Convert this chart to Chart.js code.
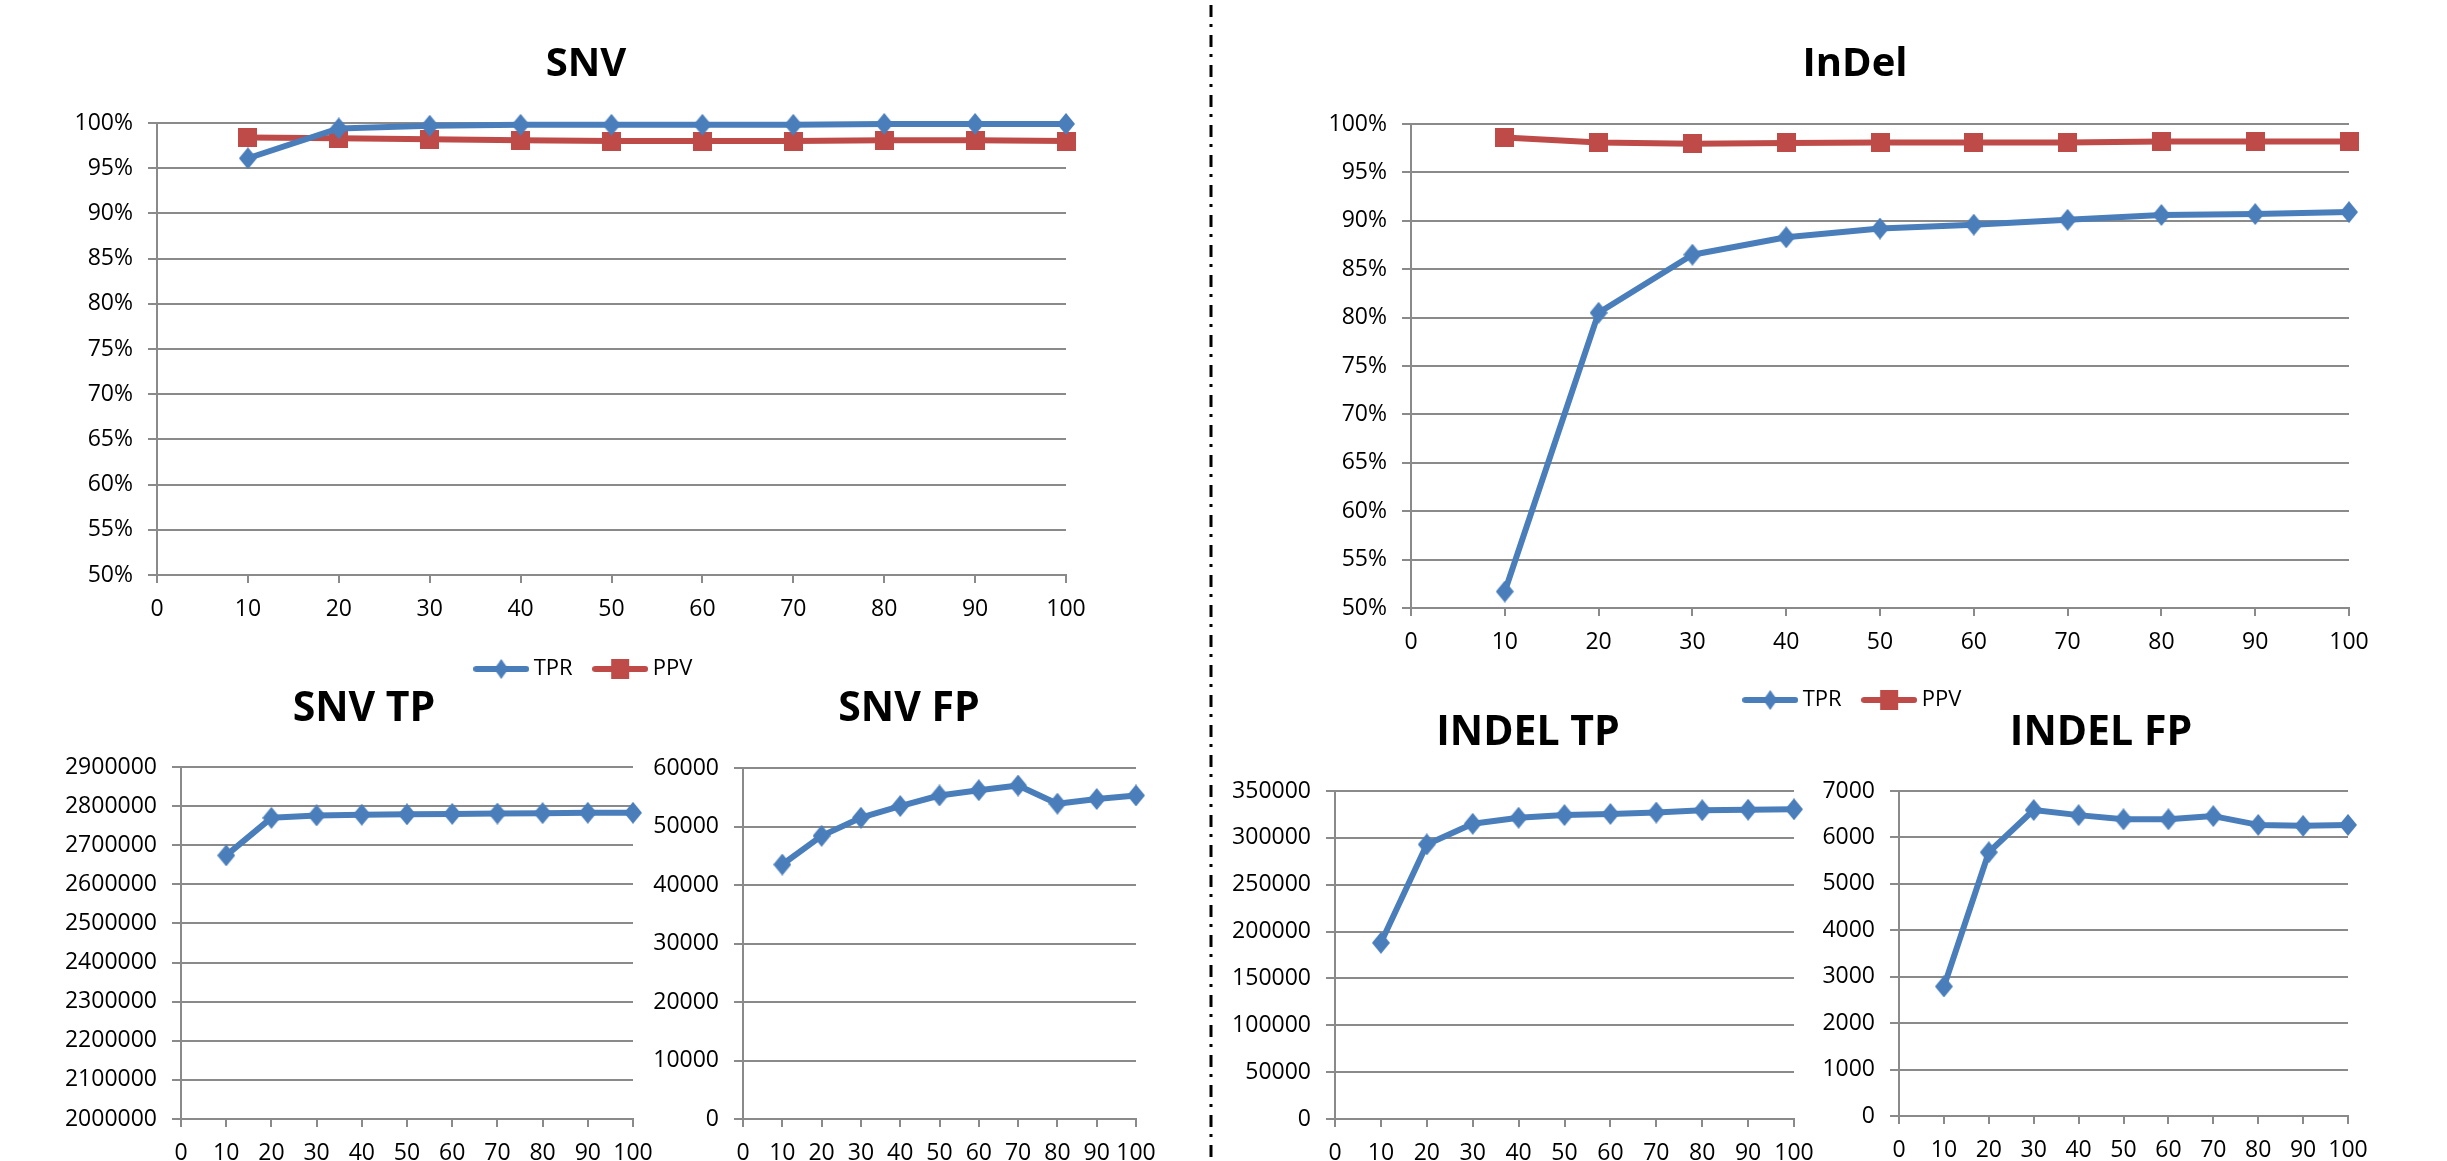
<!DOCTYPE html>
<html>
<head>
<meta charset="utf-8">
<title>SNV / InDel calling performance by depth</title>
<script src="https://cdn.jsdelivr.net/npm/chart.js@4.4.1/dist/chart.umd.min.js"></script>
<style>
  html, body { margin: 0; padding: 0; background: #ffffff; width: 2447px; height: 1161px; overflow: hidden; }
  canvas { position: absolute; display: block; }
</style>
</head>
<body>
<script>
// Sequencing depth (x)
const depth = [10, 20, 30, 40, 50, 60, 70, 80, 90, 100];

// SNV sensitivity / precision (%)
const snvTPR = [96.1, 99.4, 99.7, 99.8, 99.8, 99.8, 99.8, 99.9, 99.9, 99.9];
const snvPPV = [98.4, 98.3, 98.2, 98.1, 98.0, 98.0, 98.0, 98.1, 98.1, 98.0];

// InDel sensitivity / precision (%)
const indelTPR = [51.7, 80.5, 86.5, 88.3, 89.2, 89.6, 90.1, 90.6, 90.7, 90.9];
const indelPPV = [98.6, 98.1, 97.95, 98.05, 98.1, 98.1, 98.1, 98.2, 98.2, 98.2];

// Counts of true / false positive calls
const snvTP   = [2674000, 2770000, 2776000, 2778000, 2779000, 2780000, 2781000, 2782000, 2783000, 2783000];
const snvFP   = [43500, 48400, 51500, 53500, 55300, 56200, 57000, 53900, 54700, 55300];
const indelTP = [188000, 293000, 315000, 321500, 324300, 325500, 327000, 329500, 330000, 330500];
const indelFP = [2790, 5680, 6590, 6480, 6390, 6390, 6460, 6270, 6250, 6270];

// Series names
const seriesNames = ['TPR', 'PPV'];

const BLUE = '#4A7EBB';
const RED = '#BE4B48';
const GRID = '#8A8A8A';
const FONT = "'Open Sans', 'Liberation Sans', sans-serif";

// Marker sprites (diamond for TPR/counts, square for PPV)
function marker(kind, color) {
  const c = document.createElement('canvas');
  const w = kind === 'diamond' ? 18 : 19;
  const h = kind === 'diamond' ? 22 : 19;
  c.width = w; c.height = h;
  const g = c.getContext('2d');
  g.fillStyle = color;
  if (kind === 'diamond') {
    g.beginPath();
    g.moveTo(w / 2, 0); g.lineTo(w, h / 2); g.lineTo(w / 2, h); g.lineTo(0, h / 2);
    g.closePath(); g.fill();
  } else {
    g.fillRect(0, 0, w, h);
  }
  return c;
}

// Legend sprite: short line segment with the marker in the middle
function legendSprite(kind, color) {
  const c = document.createElement('canvas');
  c.width = 56; c.height = 22;
  const g = c.getContext('2d');
  g.strokeStyle = color; g.lineWidth = 6; g.lineCap = 'round';
  g.beginPath(); g.moveTo(3, 11); g.lineTo(53, 11); g.stroke();
  const m = marker(kind, color);
  const mw = kind === 'diamond' ? 14 : 18;
  const mh = 20;
  g.drawImage(m, 28 - mw / 2, 11 - mh / 2, mw, mh);
  return c;
}

const diamondBlue = marker('diamond', BLUE);
const squareRed = marker('square', RED);
const legendTPR = legendSprite('diamond', BLUE);
const legendPPV = legendSprite('square', RED);

function build(cfg) {
  const cv = document.createElement('canvas');
  cv.width = cfg.w; cv.height = cfg.h;
  cv.style.left = cfg.left + 'px'; cv.style.top = cfg.top + 'px';
  cv.style.width = cfg.w + 'px'; cv.style.height = cfg.h + 'px';
  document.body.appendChild(cv);

  const datasets = cfg.series.map(s => ({
    label: s.label,
    data: depth.map((d, i) => ({ x: d, y: s.values[i] })),
    yAxisID: 'y',
    borderColor: s.color,
    backgroundColor: s.color,
    borderWidth: 6,
    borderJoinStyle: 'round',
    borderCapStyle: 'round',
    pointStyle: s.marker,
    pointRadius: 9,
    pointHoverRadius: 9,
    tension: 0,
    clip: false
  }));

  const legendCfg = cfg.legend ? {
    display: true,
    position: 'bottom',
    labels: {
      usePointStyle: true,
      pointStyleWidth: 43,
      padding: 26,
      color: '#000',
      font: { family: FONT, size: 22, lineHeight: 1 },
      generateLabels(chart) {
        const items = Chart.defaults.plugins.legend.labels.generateLabels(chart);
        items.forEach((it, i) => { it.pointStyle = cfg.series[i].legendMarker; });
        return items;
      }
    }
  } : { display: false };

  new Chart(cv, {
    type: 'line',
    data: { datasets },
    options: {
      responsive: false,
      animation: false,
      events: [],
      layout: { padding: 0 },
      plugins: {
        title: {
          display: true,
          text: cfg.title,
          color: '#000',
          font: { family: FONT, size: cfg.titleSize, weight: 'bold', lineHeight: 1 },
          padding: { top: cfg.pt, bottom: cfg.pb }
        },
        legend: legendCfg,
        tooltip: { enabled: false }
      },
      scales: {
        x: {
          type: 'linear',
          min: 0, max: 100,
          ticks: {
            stepSize: 10, autoSkip: false, maxRotation: 0, minRotation: 0,
            color: '#000', padding: 15,
            font: { family: FONT, size: 23, lineHeight: 1 }
          },
          grid: { drawOnChartArea: false, drawTicks: true, tickLength: 8, color: GRID, lineWidth: 2 },
          border: { color: GRID, width: 2 },
          afterFit(s) { s.height = cfg.xh; }
        },
        y: {
          position: 'left',
          min: cfg.yMin, max: cfg.yMax,
          ticks: {
            stepSize: cfg.yStep, color: '#000', padding: 15,
            font: { family: FONT, size: 23, lineHeight: 1 },
            callback: cfg.fmt
          },
          grid: { color: GRID, lineWidth: 2, tickLength: 9 },
          border: { color: GRID, width: 2 },
          afterFit(s) { s.width = cfg.yw; }
        },
        // empty right-hand gutter so the title and legend centre over the panel
        gutter: {
          type: 'linear',
          position: 'right',
          display: true,
          grid: { display: false },
          ticks: { display: false },
          border: { display: false },
          afterFit(s) { s.width = cfg.rw; }
        }
      }
    }
  });
}

const pct = v => v + '%';
const num = v => String(v);

const rateSeries = (tpr, ppv) => [
  { label: seriesNames[0], values: tpr, color: BLUE, marker: diamondBlue, legendMarker: legendTPR },
  { label: seriesNames[1], values: ppv, color: RED, marker: squareRed, legendMarker: legendPPV }
];
const countSeries = vals => [
  { label: seriesNames[0], values: vals, color: BLUE, marker: diamondBlue, legendMarker: legendTPR }
];

// SNV rates
build({ title: 'SNV', titleSize: 40, left: 0, top: 0, w: 1172, h: 690, yw: 157, rw: 106, xh: 57,
  pt: 45, pb: 38, legend: true, yMin: 50, yMax: 100, yStep: 5, fmt: pct,
  series: rateSeries(snvTPR, snvPPV) });

// InDel rates
build({ title: 'InDel', titleSize: 40, left: 1220, top: 0, w: 1270, h: 721, yw: 191, rw: 141, xh: 55,
  pt: 45, pb: 39, legend: true, yMin: 50, yMax: 100, yStep: 5, fmt: pct,
  series: rateSeries(indelTPR, indelPPV) });

// SNV TP
build({ title: 'SNV TP', titleSize: 41, left: 0, top: 650, w: 728, h: 511, yw: 181, rw: 95, xh: 42,
  pt: 39, pb: 37, legend: false, yMin: 2000000, yMax: 2900000, yStep: 100000, fmt: num,
  series: countSeries(snvTP) });

// SNV FP
build({ title: 'SNV FP', titleSize: 41, left: 640, top: 650, w: 538, h: 511, yw: 103, rw: 42, xh: 42,
  pt: 39, pb: 38, legend: false, yMin: 0, yMax: 60000, yStep: 10000, fmt: num,
  series: countSeries(snvFP) });

// INDEL TP
build({ title: 'INDEL TP', titleSize: 41, left: 1225, top: 670, w: 606, h: 491, yw: 110, rw: 37, xh: 42,
  pt: 43, pb: 37, legend: false, yMin: 0, yMax: 350000, yStep: 50000, fmt: num,
  series: countSeries(indelTP) });

// INDEL FP
build({ title: 'INDEL FP', titleSize: 41, left: 1815, top: 670, w: 572, h: 491, yw: 84, rw: 39, xh: 45,
  pt: 43, pb: 37, legend: false, yMin: 0, yMax: 7000, yStep: 1000, fmt: num,
  series: countSeries(indelFP) });

// Dash-dot divider between the SNV and InDel panels
(function divider() {
  const c = document.createElement('canvas');
  c.width = 12; c.height = 1161;
  c.style.left = '1205px'; c.style.top = '0px';
  document.body.appendChild(c);
  const g = c.getContext('2d');
  g.strokeStyle = '#000';
  g.lineWidth = 3;
  g.setLineDash([12, 7, 3, 8]);
  g.lineDashOffset = -5;
  g.beginPath(); g.moveTo(6, 0); g.lineTo(6, 1161); g.stroke();
})();
</script>
</body>
</html>
